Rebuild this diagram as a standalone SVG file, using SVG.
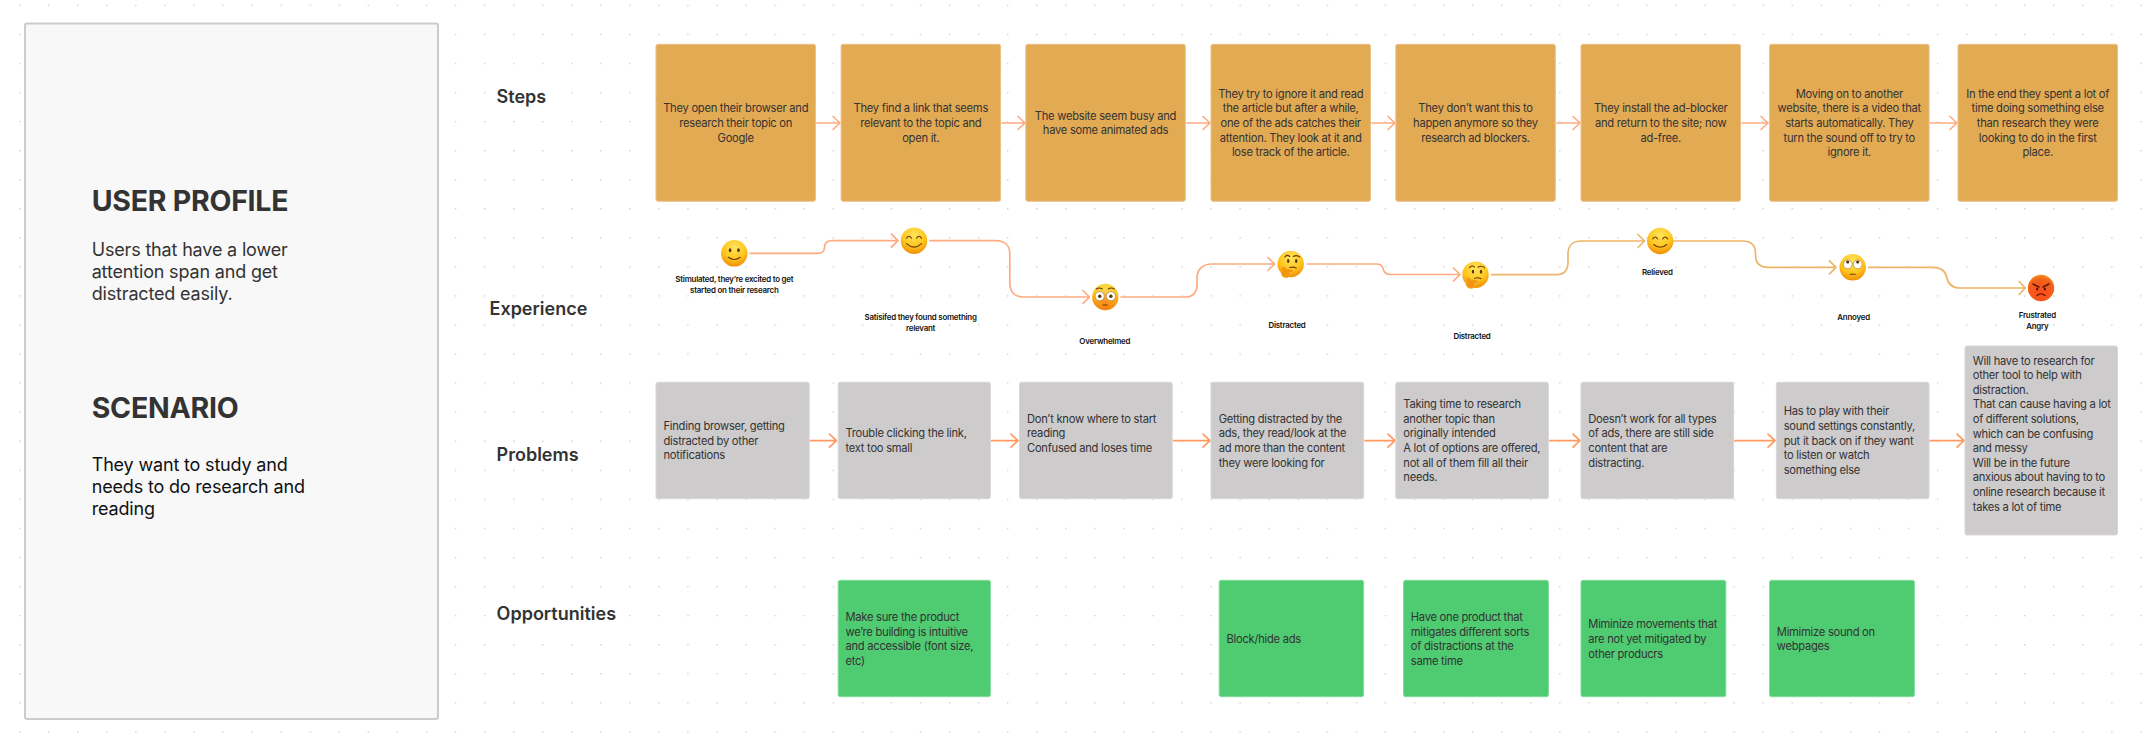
<svg xmlns="http://www.w3.org/2000/svg" xmlns:xlink="http://www.w3.org/1999/xlink" width="2152" height="744" viewBox="0 0 2152 744">
<style>
text{font-family:Inter,"Noto Sans","Liberation Sans",sans-serif}
.card{stroke-width:1}
.step{fill:#E3AA54;stroke:#EBC188}
.prob{fill:#CDCBCC;stroke:#D8D7D7}
.opp{fill:#4FCB71;stroke:#7FDB98}
.t{font-size:11.2px;letter-spacing:-.27px;fill:#333}
.c{text-anchor:middle}
.row{font-size:18px;font-weight:600;fill:#333}
.h{font-size:28.5px;font-weight:700;letter-spacing:-.25px;fill:#333}
.b{font-size:18px;letter-spacing:-.17px;fill:#333}
.e{font-size:7.9px;font-weight:600;letter-spacing:-.22px;fill:#111;text-anchor:middle}
.a{fill:none;stroke-width:1.7;stroke-linecap:round;stroke-linejoin:round}
.s{stroke:#FFAB82}
.p{stroke:#FF9A60}
.g{stroke:#EDB56A}
.f{fill:none;stroke:#6B3A06;stroke-width:1.1;stroke-linecap:round}
.k{fill:#5A3208}
.w{fill:#fff;stroke:#8A5A1A;stroke-width:.5}
.hand{fill:#F0950E;stroke:#FFC23A;stroke-width:.5}
</style>
<defs>
<pattern id="dots" patternUnits="userSpaceOnUse" x="18.94" y="4.67" width="29.06" height="29.06"><circle cx="0.6" cy="0.6" r="0.9" fill="#CFCFCF"/></pattern>
<radialGradient id="yel" cx="50%" cy="28%" r="78%"><stop offset="0" stop-color="#FFE55C"/><stop offset=".55" stop-color="#FFC61F"/><stop offset="1" stop-color="#EE8400"/></radialGradient>
<radialGradient id="red" cx="50%" cy="70%" r="75%"><stop offset="0" stop-color="#FF4A1C"/><stop offset=".7" stop-color="#F2611A"/><stop offset="1" stop-color="#F59A1E"/></radialGradient>
<radialGradient id="blush" cx="50%" cy="75%" r="60%"><stop offset="0" stop-color="#F5731E" stop-opacity=".75"/><stop offset="1" stop-color="#F5731E" stop-opacity="0"/></radialGradient>
</defs>
<rect width="2152" height="744" fill="#fff"/>
<rect x="0" y="0" width="2152" height="744" fill="url(#dots)"/>

<g id="profile-panel">
<rect x="25" y="23.5" width="413" height="695.5" rx="2" fill="#F8F8F8" stroke="#CCCCCC" stroke-width="2"/>
<text class="h" x="91.7" y="210.7">USER PROFILE</text>
<text class="b" x="91.7" y="255.7">Users that have a lower</text>
<text class="b" x="91.7" y="277.7">attention span and get</text>
<text class="b" x="91.7" y="299.7">distracted easily.</text>
<text class="h" x="91.7" y="418">SCENARIO</text>
<text class="b" x="91.7" y="471.3" style="fill:#111">They want to study and</text>
<text class="b" x="91.7" y="493.3" style="fill:#111">needs to do research and</text>
<text class="b" x="91.7" y="515.3" style="fill:#111">reading</text>
</g>

<g id="row-labels">
<text class="row" x="496.6" y="103">Steps</text>
<text class="row" x="489.5" y="315">Experience</text>
<text class="row" x="496.6" y="461">Problems</text>
<text class="row" x="496.6" y="620">Opportunities</text>
</g>

<g id="connectors">
<path class="a s" d="M817 123H839M833 116.5L840 123L833 129.5"/>
<path class="a s" d="M1002 123H1024M1018 116.5L1025 123L1018 129.5"/>
<path class="a s" d="M1187 123H1209M1203 116.5L1210 123L1203 129.5"/>
<path class="a s" d="M1372 123H1394M1388 116.5L1395 123L1388 129.5"/>
<path class="a s" d="M1557 123H1579M1573 116.5L1580 123L1573 129.5"/>
<path class="a s" d="M1742 123H1767M1761 116.5L1768 123L1761 129.5"/>
<path class="a s" d="M1930.4 123H1956M1950 116.5L1957 123L1950 129.5"/>
<path class="a p" d="M810 440.7H836M829.5 434.2L836.5 440.7L829.5 447.2"/>
<path class="a p" d="M991.4 440.7H1017M1011 434.2L1018 440.7L1011 447.2"/>
<path class="a p" d="M1173.6 440.7H1209.5M1203 434.2L1210 440.7L1203 447.2"/>
<path class="a p" d="M1365 440.7H1394M1388 434.2L1395 440.7L1388 447.2"/>
<path class="a p" d="M1550 440.7H1579.5M1573 434.2L1580 440.7L1573 447.2"/>
<path class="a p" d="M1735 440.7H1774.5M1768 434.2L1775 440.7L1768 447.2"/>
<path class="a p" d="M1930 440.7H1963.5M1957 434.2L1964 440.7L1957 447.2"/>
<path class="a s" d="M750 253.3H817C823 253.3 824.5 250 824.5 247.5C824.5 243 827 240.7 832 240.7H897.5M891.5 234.2L898 240.7L891.5 247.2"/>
<path class="a s" d="M930 240.7H996C1005 240.7 1009.8 246 1009.8 254V283C1009.8 292 1015 297 1024 297H1089M1083 290.5L1089.5 297L1083 303.5"/>
<path class="a s" d="M1121 297H1186C1193 297 1197 292 1197 285V278C1197 269 1203 264 1212 264H1274.5M1268 257.5L1274.7 264L1268 270.5"/>
<path class="a s" d="M1307 264H1376C1380.5 264 1382.5 266 1383 268.5C1384 272.5 1386 274.5 1390 274.5H1459.5M1453.5 268L1460 274.5L1453.5 281"/>
<path class="a g" d="M1491.6 274.7H1556C1564 274.7 1568 270 1568 262V254C1568 245.5 1573 241 1581 241H1644M1638 234.5L1644.6 241L1638 247.5"/>
<path class="a g" d="M1673.8 241H1742C1751 241 1755.5 245 1755.5 253V255C1755.5 263 1760 267.3 1768 267.3H1835.5M1829.5 260.8L1836 267.3L1829.5 273.8"/>
<path class="a g" d="M1868.7 267.3H1932C1941 267.3 1945.5 271 1946.7 277C1948 284.5 1952 288 1960 288H2025M2019 281.5L2025.3 288L2019 294.5"/>
</g>

<g id="step-1"><rect class="card step" x="656" y="44.3" width="159.5" height="157" rx="2"/><text class="t c" x="735.7" y="112.3">They open their browser and</text><text class="t c" x="735.7" y="126.9">research their topic on</text><text class="t c" x="735.7" y="141.5">Google</text></g>
<g id="step-2"><rect class="card step" x="841.1" y="44.3" width="159.5" height="157" rx="2"/><text class="t c" x="920.8" y="112.3">They find a link that seems</text><text class="t c" x="920.8" y="126.9">relevant to the topic and</text><text class="t c" x="920.8" y="141.5">open it.</text></g>
<g id="step-3"><rect class="card step" x="1025.8" y="44.3" width="159.5" height="157" rx="2"/><text class="t c" x="1105.5" y="119.5">The website seem busy and</text><text class="t c" x="1105.5" y="134.1">have some animated ads</text></g>
<g id="step-4"><rect class="card step" x="1211" y="44.3" width="159.5" height="157" rx="2"/><text class="t c" x="1290.7" y="97.7">They try to ignore it and read</text><text class="t c" x="1290.7" y="112.3">the article but after a while,</text><text class="t c" x="1290.7" y="126.9">one of the ads catches their</text><text class="t c" x="1290.7" y="141.5">attention. They look at it and</text><text class="t c" x="1290.7" y="156.1">lose track of the article.</text></g>
<g id="step-5"><rect class="card step" x="1395.8" y="44.3" width="159.5" height="157" rx="2"/><text class="t c" x="1475.5" y="112.3">They don’t want this to</text><text class="t c" x="1475.5" y="126.9">happen anymore so they</text><text class="t c" x="1475.5" y="141.5">research ad blockers.</text></g>
<g id="step-6"><rect class="card step" x="1581" y="44.3" width="159.5" height="157" rx="2"/><text class="t c" x="1660.7" y="112.3">They install the ad-blocker</text><text class="t c" x="1660.7" y="126.9">and return to the site; now</text><text class="t c" x="1660.7" y="141.5">ad-free.</text></g>
<g id="step-7"><rect class="card step" x="1769.6" y="44.3" width="159.5" height="157" rx="2"/><text class="t c" x="1849.3" y="97.7">Moving on to another</text><text class="t c" x="1849.3" y="112.3">website, there is a video that</text><text class="t c" x="1849.3" y="126.9">starts automatically. They</text><text class="t c" x="1849.3" y="141.5">turn the sound off to try to</text><text class="t c" x="1849.3" y="156.1">ignore it.</text></g>
<g id="step-8"><rect class="card step" x="1958" y="44.3" width="159.5" height="157" rx="2"/><text class="t c" x="2037.7" y="97.7">In the end they spent a lot of</text><text class="t c" x="2037.7" y="112.3">time doing something else</text><text class="t c" x="2037.7" y="126.9">than research they were</text><text class="t c" x="2037.7" y="141.5">looking to do in the first</text><text class="t c" x="2037.7" y="156.1">place.</text></g>

<g id="exp-1"><g transform="translate(734.3 253.3)"><circle r="13.2" fill="url(#yel)"/><ellipse class="k" cx="-4.2" cy="-3" rx="1.3" ry="2"/><ellipse class="k" cx="4.2" cy="-3" rx="1.3" ry="2"/><path class="f" d="M-6 4Q0 8.5 6 4"/></g><text class="e" x="734.3" y="281.7">Stimulated, they’re excited to get</text><text class="e" x="734.3" y="292.7">started on their research</text></g>
<g id="exp-2"><g transform="translate(914 240.7)"><circle r="13.2" fill="url(#yel)"/><path class="f" d="M-7.5 -2.5Q-5 -6.5 -2.5 -2.5M2.5 -2.5Q5 -6.5 7.5 -2.5"/><path class="f" d="M-7.5 3Q0 10 7.5 3" stroke-width="1.4"/></g><text class="e" x="920.6" y="320">Satisifed they found something</text><text class="e" x="920.6" y="331">relevant</text></g>
<g id="exp-3"><g transform="translate(1105.3 297)"><circle r="13.2" fill="url(#yel)"/><circle r="13.2" fill="url(#blush)"/><circle class="w" cx="-5.6" cy="-.8" r="4.6"/><circle class="w" cx="5.6" cy="-.8" r="4.6"/><circle class="k" cx="-5.6" cy="-.8" r="1.7"/><circle class="k" cx="5.6" cy="-.8" r="1.7"/><path class="f" d="M-9 -8Q-6 -10 -3 -8M3 -8Q6 -10 9 -8"/><path class="f" d="M-2 8H2"/></g><text class="e" x="1104.8" y="343.7">Overwhelmed</text></g>
<g id="exp-4"><g transform="translate(1290.7 264)"><circle r="13.2" fill="url(#yel)"/><ellipse class="k" cx="-2.5" cy="-3" rx="1.2" ry="1.9"/><ellipse class="k" cx="5.5" cy="-3" rx="1.2" ry="1.9"/><path class="f" d="M-6 -7Q-3.5 -10 -1 -7.5M2.5 -7.5Q6 -9.5 9 -7"/><path class="f" d="M-1 3.5Q3 2.5 5.5 4"/><path class="hand" d="M-9 3Q-6 2 -4 5L2 5.5Q3.5 7 1.5 8L-1 8.5Q0 12 -3 13.7Q-8 14.5 -9.5 10Z"/></g><text class="e" x="1287" y="328">Distracted</text></g>
<g id="exp-5"><g transform="translate(1475.5 274.7)"><circle r="13.2" fill="url(#yel)"/><ellipse class="k" cx="-2.5" cy="-3" rx="1.2" ry="1.9"/><ellipse class="k" cx="5.5" cy="-3" rx="1.2" ry="1.9"/><path class="f" d="M-6 -7Q-3.5 -10 -1 -7.5M2.5 -7.5Q6 -9.5 9 -7"/><path class="f" d="M-1 3.5Q3 2.5 5.5 4"/><path class="hand" d="M-9 3Q-6 2 -4 5L2 5.5Q3.5 7 1.5 8L-1 8.5Q0 12 -3 13.7Q-8 14.5 -9.5 10Z"/></g><text class="e" x="1472" y="338.7">Distracted</text></g>
<g id="exp-6"><g transform="translate(1660.2 241)"><circle r="13.2" fill="url(#yel)"/><path class="f" d="M-7.5 -2Q-5 -6 -2.5 -2M2.5 -2Q5 -6 7.5 -2"/><path class="f" d="M-6.5 3.5Q0 9 6.5 3.5"/></g><text class="e" x="1657.3" y="275.3">Relieved</text></g>
<g id="exp-7"><g transform="translate(1852.7 267.3)"><circle r="13.2" fill="url(#yel)"/><circle class="w" cx="-5" cy="-3" r="4.4"/><circle class="w" cx="5" cy="-3" r="4.4"/><circle class="k" cx="-5" cy="-5.3" r="1.6"/><circle class="k" cx="5" cy="-5.3" r="1.6"/><path class="f" d="M-2.5 7H2.5"/></g><text class="e" x="1853.6" y="320">Annoyed</text></g>
<g id="exp-8"><g transform="translate(2041 288)"><circle r="13.2" fill="url(#red)"/><path d="M-8 -4L-2 -1M8 -4L2 -1" fill="none" stroke="#5A1A05" stroke-width="1.5" stroke-linecap="round"/><ellipse cx="-3.8" cy="1" rx="1.1" ry="1.5" fill="#4A1505"/><ellipse cx="3.8" cy="1" rx="1.1" ry="1.5" fill="#4A1505"/><path d="M-4 7.5Q0 4 4 7.5" fill="none" stroke="#4A1505" stroke-width="1.2" stroke-linecap="round"/></g><text class="e" x="2037.3" y="317.7">Frustrated</text><text class="e" x="2037.3" y="328.7">Angry</text></g>

<g id="problem-1"><rect class="card prob" x="656" y="382.3" width="153.2" height="116.4" rx="2"/><text class="t" x="663.5" y="430">Finding browser, getting</text><text class="t" x="663.5" y="444.6">distracted by other</text><text class="t" x="663.5" y="459.2">notifications</text></g>
<g id="problem-2"><rect class="card prob" x="838.2" y="382.3" width="152.2" height="116.4" rx="2"/><text class="t" x="845.5" y="437.3">Trouble clicking the link,</text><text class="t" x="845.5" y="451.9">text too small</text></g>
<g id="problem-3"><rect class="card prob" x="1019.5" y="382.3" width="152.7" height="116.4" rx="2"/><text class="t" x="1027" y="422.7">Don’t know where to start</text><text class="t" x="1027" y="437.3">reading</text><text class="t" x="1027" y="451.9">Confused and loses time</text></g>
<g id="problem-4"><rect class="card prob" x="1211" y="382.3" width="152.6" height="116.4" rx="2"/><text class="t" x="1218.7" y="422.7">Getting distracted by the</text><text class="t" x="1218.7" y="437.3">ads, they read/look at the</text><text class="t" x="1218.7" y="451.9">ad more than the content</text><text class="t" x="1218.7" y="466.5">they were looking for</text></g>
<g id="problem-5"><rect class="card prob" x="1395.8" y="382.3" width="152.6" height="116.4" rx="2"/><text class="t" x="1403.3" y="408.1">Taking time to research</text><text class="t" x="1403.3" y="422.7">another topic than</text><text class="t" x="1403.3" y="437.3">originally intended</text><text class="t" x="1403.3" y="451.9">A lot of options are offered,</text><text class="t" x="1403.3" y="466.5">not all of them fill all their</text><text class="t" x="1403.3" y="481.1">needs.</text></g>
<g id="problem-6"><rect class="card prob" x="1581" y="382.3" width="152.6" height="116.4" rx="2"/><text class="t" x="1588.3" y="422.7">Doesn’t work for all types</text><text class="t" x="1588.3" y="437.3">of ads, there are still side</text><text class="t" x="1588.3" y="451.9">content that are</text><text class="t" x="1588.3" y="466.5">distracting.</text></g>
<g id="problem-7"><rect class="card prob" x="1776.4" y="382.3" width="152.6" height="116.4" rx="2"/><text class="t" x="1783.7" y="415.4">Has to play with their</text><text class="t" x="1783.7" y="430">sound settings constantly,</text><text class="t" x="1783.7" y="444.6">put it back on if they want</text><text class="t" x="1783.7" y="459.2">to listen or watch</text><text class="t" x="1783.7" y="473.8">something else</text></g>
<g id="problem-8"><rect class="card prob" x="1965" y="346" width="152.5" height="189" rx="2"/><text class="t" x="1972.7" y="364.6">Will have to research for</text><text class="t" x="1972.7" y="379.2">other tool to help with</text><text class="t" x="1972.7" y="393.8">distraction.</text><text class="t" x="1972.7" y="408.4">That can cause having a lot</text><text class="t" x="1972.7" y="423">of different solutions,</text><text class="t" x="1972.7" y="437.6">which can be confusing</text><text class="t" x="1972.7" y="452.2">and messy</text><text class="t" x="1972.7" y="466.8">Will be in the future</text><text class="t" x="1972.7" y="481.4">anxious about having to to</text><text class="t" x="1972.7" y="496">online research because it</text><text class="t" x="1972.7" y="510.6">takes a lot of time</text></g>

<g id="opportunity-1"><rect class="card opp" x="838.2" y="580.3" width="152.2" height="116.4" rx="2"/><text class="t" x="845.5" y="621">Make sure the product</text><text class="t" x="845.5" y="635.6">we’re building is intuitive</text><text class="t" x="845.5" y="650.2">and accessible (font size,</text><text class="t" x="845.5" y="664.8">etc)</text></g>
<g id="opportunity-2"><rect class="card opp" x="1219.2" y="580.3" width="144.4" height="116.4" rx="2"/><text class="t" x="1226.5" y="643">Block/hide ads</text></g>
<g id="opportunity-3"><rect class="card opp" x="1403.6" y="580.3" width="144.8" height="116.4" rx="2"/><text class="t" x="1410.8" y="621">Have one product that</text><text class="t" x="1410.8" y="635.6">mitigates different sorts</text><text class="t" x="1410.8" y="650.2">of distractions at the</text><text class="t" x="1410.8" y="664.8">same time</text></g>
<g id="opportunity-4"><rect class="card opp" x="1581" y="580.3" width="144.8" height="116.4" rx="2"/><text class="t" x="1588.3" y="628.3">Miminize movements that</text><text class="t" x="1588.3" y="642.9">are not yet mitigated by</text><text class="t" x="1588.3" y="657.5">other producrs</text></g>
<g id="opportunity-5"><rect class="card opp" x="1769.6" y="580.3" width="144.8" height="116.4" rx="2"/><text class="t" x="1776.8" y="635.6">Mimimize sound on</text><text class="t" x="1776.8" y="650.2">webpages</text></g>
</svg>
